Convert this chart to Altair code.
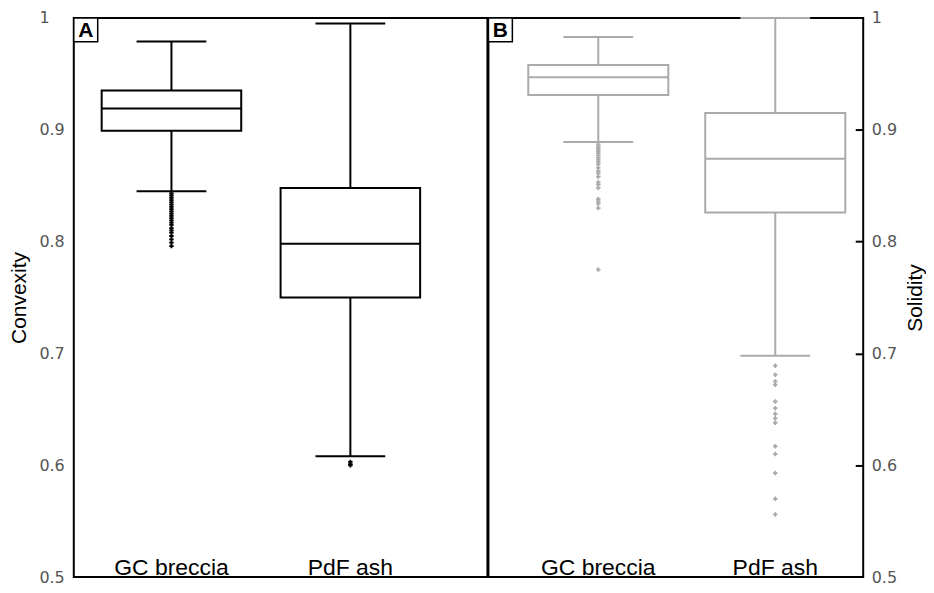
import altair as alt
import pandas as pd

cats = ["GC breccia", "PdF ash"]
y_ticks = [0.5, 0.6, 0.7, 0.8, 0.9, 1.0]
inner_ticks = [0.6, 0.7, 0.8, 0.9]

# Panel A - Convexity
a_low = [0.845, 0.608]
a_q1 = [0.899, 0.750]
a_med = [0.919, 0.798]
a_q3 = [0.935, 0.848]
a_high = [0.979, 0.995]
a_out_gc = [0.843, 0.841, 0.839, 0.837, 0.835, 0.833, 0.831, 0.829, 0.827, 0.825,
            0.823, 0.821, 0.819, 0.817, 0.815, 0.812, 0.810, 0.808, 0.805, 0.802,
            0.799, 0.796]
a_out_pdf = [0.603, 0.601, 0.600]

# Panel B - Solidity
b_low = [0.889, 0.698]
b_q1 = [0.931, 0.826]
b_med = [0.947, 0.874]
b_q3 = [0.958, 0.915]
b_high = [0.983, 1.0]
b_out_gc = [0.887, 0.885, 0.883, 0.881, 0.879, 0.877, 0.875, 0.873, 0.871, 0.869,
            0.866, 0.863, 0.861, 0.858, 0.853, 0.851, 0.848, 0.838, 0.836, 0.834,
            0.830, 0.775]
b_out_pdf = [0.689, 0.681, 0.675, 0.672, 0.657, 0.651, 0.646, 0.642, 0.638, 0.617,
             0.610, 0.593, 0.570, 0.556]

H = 561
WA = 415
WB = 376

yscale = alt.Scale(domain=[0.5, 1.0], nice=False, zero=False)

xaxis = alt.Axis(orient="bottom", ticks=False, tickSize=0, domain=False, grid=False,
                 labelFont="Liberation Sans", labelFontSize=23, labelColor="black",
                 labelPadding=-3, labelBaseline="alphabetic", labelAngle=0, title=None)


def ylabel_axis(orient, title, pad, tx):
    return alt.Axis(orient=orient, values=y_ticks, format="~g", ticks=False, tickSize=0,
                    domain=False, grid=False, labelFont="DejaVu Sans", labelFontSize=16,
                    labelColor="#555555", labelAlign="left", labelBaseline="middle",
                    labelPadding=pad, title=title, titleFont="Liberation Sans",
                    titleFontSize=21, titleFontWeight="normal", titleColor="black",
                    titleAngle=270, titleX=tx, titleBaseline="middle")


def panel(letter, low, q1, med, q3, high, out_gc, out_pdf, color, W, pi, po, align,
          box_w, axis_rule, axis_box, axis_other):
    stats = pd.DataFrame({"cat": cats, "low": low, "q1": q1, "med": med, "q3": q3, "high": high})
    outs = pd.DataFrame({"cat": [cats[0]] * len(out_gc) + [cats[1]] * len(out_pdf),
                         "v": out_gc + out_pdf})
    xs = alt.X("cat:N", sort=cats,
               scale=alt.Scale(domain=cats, paddingInner=pi, paddingOuter=po, align=align),
               axis=xaxis)
    base = alt.Chart(stats)
    whisk = base.mark_rule(color=color, strokeWidth=2).encode(
        x=xs, y=alt.Y("low:Q", scale=yscale, axis=axis_rule), y2=alt.Y2("high:Q"))
    box = base.mark_bar(fill="white", stroke=color, strokeWidth=2).encode(
        x=xs, y=alt.Y("q1:Q", scale=yscale, axis=axis_box), y2=alt.Y2("q3:Q"))
    medt = base.mark_tick(color=color, thickness=2, size=box_w, orient="horizontal", opacity=1).encode(
        x=xs, y=alt.Y("med:Q", scale=yscale, axis=axis_other))
    caplo = base.mark_tick(color=color, thickness=2, size=70, orient="horizontal", opacity=1).encode(
        x=xs, y=alt.Y("low:Q", scale=yscale, axis=axis_other))
    caphi = base.mark_tick(color=color, thickness=2, size=70, orient="horizontal", opacity=1).encode(
        x=xs, y=alt.Y("high:Q", scale=yscale, axis=axis_other))
    pts = alt.Chart(outs).mark_point(shape="cross", filled=True, size=20, color=color, opacity=1).encode(
        x=xs, y=alt.Y("v:Q", scale=yscale, axis=axis_other))
    lab = alt.Chart(pd.DataFrame({"t": [letter]}))
    labbox = lab.mark_rect(fill="white", stroke="black", strokeWidth=1.5).encode(
        x=alt.value(0), x2=alt.value(24), y=alt.value(0), y2=alt.value(24))
    labtxt = lab.mark_text(font="Liberation Sans", fontWeight="bold", fontSize=21,
                           color="black", align="center", baseline="middle").encode(
        text="t:N", x=alt.value(12), y=alt.value(13))
    return alt.layer(whisk, box, medt, caplo, caphi, pts, labbox, labtxt).properties(width=W, height=H)


left_axis = ylabel_axis("left", "Convexity", 35, -54)
A = panel("A", a_low, a_q1, a_med, a_q3, a_high, a_out_gc, a_out_pdf, "black",
          WA, 0.22, 0.266, 0.293, 140, left_axis, left_axis, left_axis)

right_axis = ylabel_axis("right", "Solidity", 8, 52)
inner_axis = alt.Axis(orient="left", offset=-WB, values=inner_ticks, ticks=True, tickSize=8,
                      tickWidth=2, tickColor="black", labels=False, domain=False, grid=False,
                      title=None)
B = panel("B", b_low, b_q1, b_med, b_q3, b_high, b_out_gc, b_out_pdf, "#aaaaaa",
          WB, 0.2085, 0.163, 0.69, 141, right_axis, inner_axis, None).resolve_axis(y="independent")

chart = alt.hconcat(A, B, spacing=-2).configure_view(
    stroke="black", strokeWidth=2
).properties(padding={"left": 0, "top": 0, "right": 0, "bottom": 0}, background="white")

chart.save("out.html", embed_options={"renderer": "svg", "actions": False})
